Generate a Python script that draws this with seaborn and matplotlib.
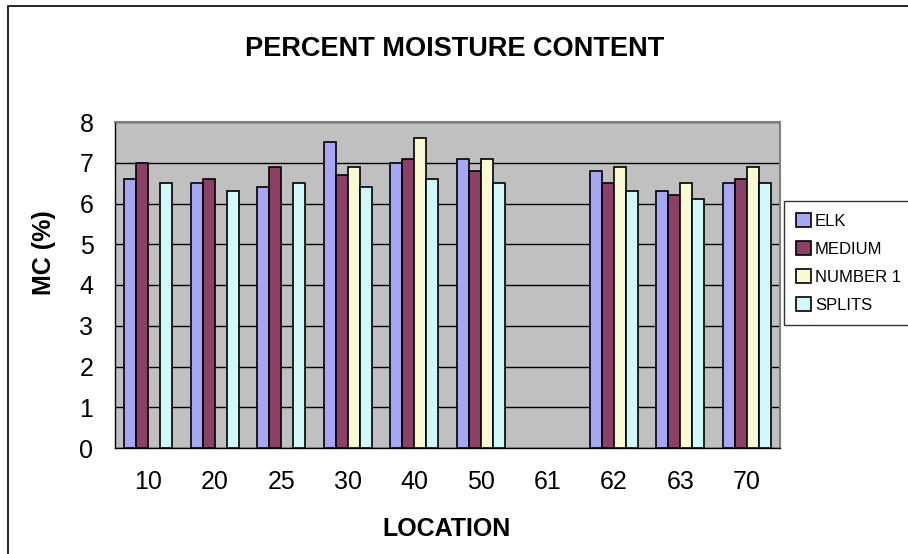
import numpy as np
import pandas as pd
import matplotlib
matplotlib.use("Agg")
import matplotlib.pyplot as plt
import seaborn as sns
from matplotlib.patches import Rectangle

# data (NaN = no bar)
locations = ["10", "20", "25", "30", "40", "50", "61", "62", "63", "70"]
elk = [6.6, 6.5, 6.4, 7.5, 7.0, 7.1, np.nan, 6.8, 6.3, 6.5]
medium = [7.0, 6.6, 6.9, 6.7, 7.1, 6.8, np.nan, 6.5, 6.2, 6.6]
number1 = [np.nan, np.nan, np.nan, 6.9, 7.6, 7.1, np.nan, 6.9, 6.5, 6.9]
splits = [6.5, 6.3, 6.5, 6.4, 6.6, 6.5, np.nan, 6.3, 6.1, 6.5]
series = ["ELK", "MEDIUM", "NUMBER 1", "SPLITS"]
colors = ["#9999FF", "#993366", "#FFFFCC", "#CCFFFF"]

df = pd.DataFrame({"LOCATION": locations, "ELK": elk, "MEDIUM": medium,
                   "NUMBER 1": number1, "SPLITS": splits})
long_df = df.melt(id_vars="LOCATION", var_name="type", value_name="mc")

sns.set_style("white")
plt.rcParams['font.family'] = ['Liberation Sans', 'DejaVu Sans']
plt.rcParams['text.color'] = 'black'
plt.rcParams['axes.labelcolor'] = 'black'
plt.rcParams['xtick.color'] = 'black'
plt.rcParams['ytick.color'] = 'black'

fig = plt.figure(figsize=(9.08, 5.54), dpi=100)
ax = fig.add_axes([115/908, 1-448/554, (780-115)/908, (448-122)/554])

sns.barplot(data=long_df, x="LOCATION", y="mc", hue="type", order=locations,
            hue_order=series, palette=colors, width=0.72, edgecolor="black",
            linewidth=1.2, errorbar=None, ax=ax, zorder=3)

ax.set_facecolor("#C0C0C0")
ax.set_ylim(0, 8)
ax.set_xlim(-0.5, len(locations) - 0.5)
ax.set_yticks(range(0, 9))
ax.yaxis.grid(True, color="black", linewidth=1)
ax.set_axisbelow(True)

# excel style ticks between categories
ax.set_xticks(np.arange(-0.5, len(locations), 1.0), minor=True)
ax.tick_params(axis="x", which="major", length=0, pad=16, labelsize=18)
ax.tick_params(axis="x", which="minor", length=6, width=1, color="black", direction="out")
ax.tick_params(axis="y", length=6.5, width=1, color="black", direction="out", labelsize=18, pad=9)

for s in ["left", "bottom"]:
    ax.spines[s].set_color("black")
    ax.spines[s].set_linewidth(1)
for s in ["top", "right"]:
    ax.spines[s].set_color("#808080")
    ax.spines[s].set_linewidth(1.5)

ax.set_xlabel("")
ax.set_ylabel("")
fig.text(447/908, 1 - 529/554, "LOCATION", ha="center", va="center",
         fontsize=18, fontweight="bold")
fig.text(44/908, 1 - 253/554, "MC (%)", ha="center", va="center", rotation=90,
         fontsize=18, fontweight="bold")
fig.text(455/908, 1 - 49/554, "PERCENT MOISTURE CONTENT", ha="center", va="center",
         fontsize=19.5, fontweight="bold")

handles, labels = ax.get_legend_handles_labels()
leg = ax.legend(handles, labels, loc="center left", bbox_to_anchor=(784/908, 1 - 263/554),
                bbox_transform=fig.transFigure, frameon=True, fancybox=False,
                edgecolor="black", fontsize=12, handlelength=0.9, handleheight=0.9,
                handletextpad=0.25, borderpad=0.7, labelspacing=0.75, borderaxespad=0)
leg.get_frame().set_linewidth(1)

# outer chart border
fig.patches.append(Rectangle((8/908, -0.05), 1.1, 1 - 6/554 + 0.05, transform=fig.transFigure,
                             fill=False, edgecolor="black", linewidth=1.2))

fig.savefig("out.png", dpi=100)
